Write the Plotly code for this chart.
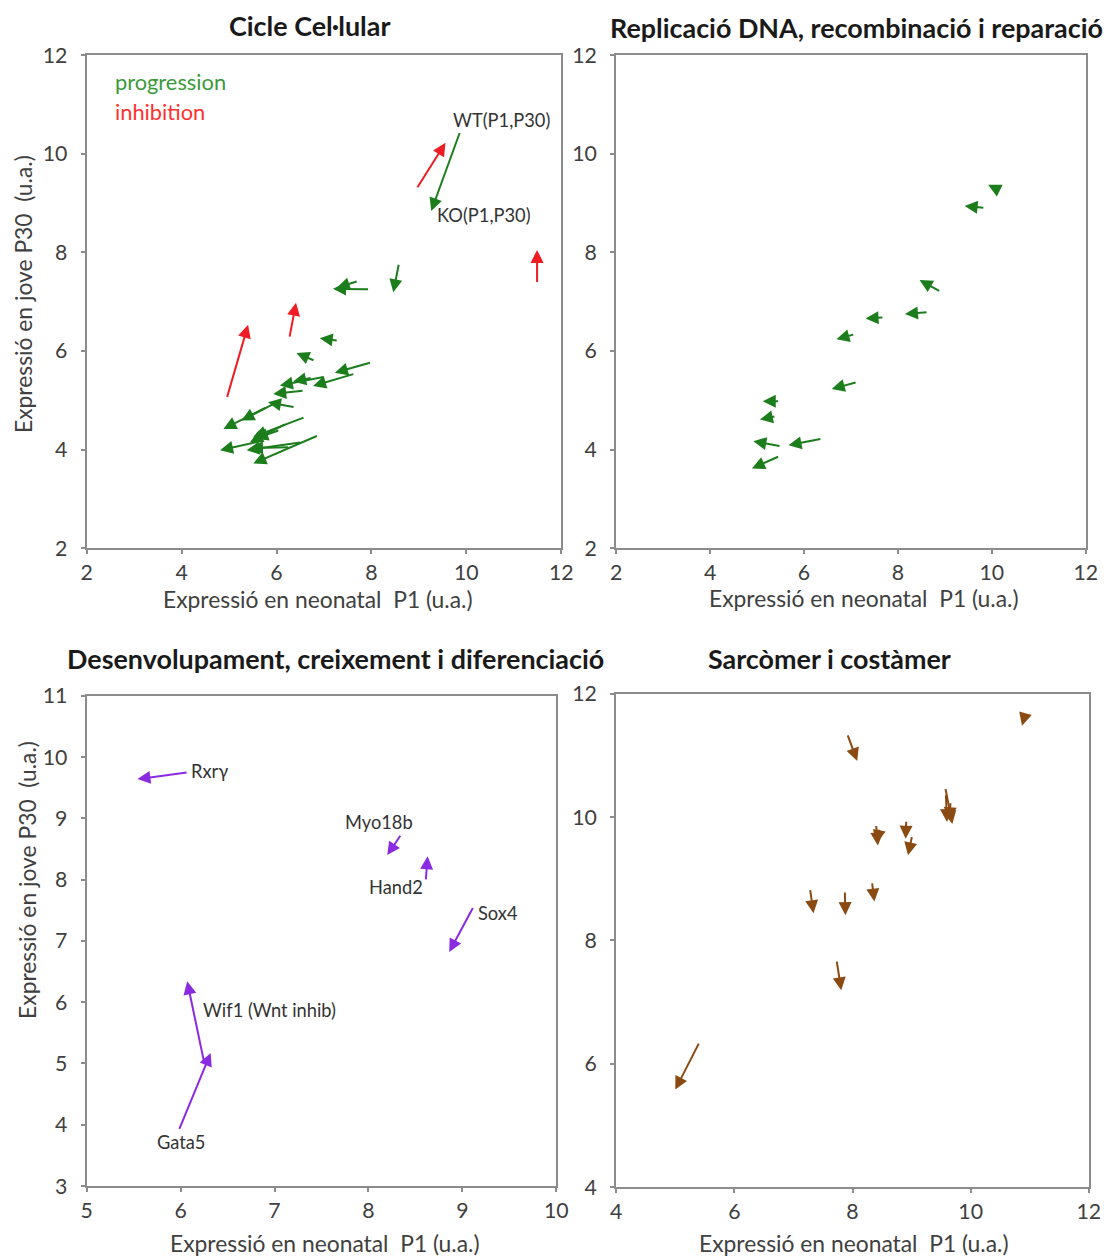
import plotly.graph_objects as go

# ---------------- data: arrows go from P1/P30 of WT (tail) to KO (head) ----------------
# Cicle Cel·lular: progression genes (green)
cc_prog_x0 = [8.58, 7.96, 7.72, 7.30, 6.81, 8.00, 7.65, 7.02, 6.75, 6.58, 6.39, 6.00, 5.79, 6.60, 6.21, 5.75, 6.88, 6.53, 6.28, 6.07]
cc_prog_y0 = [7.78, 7.25, 7.42, 6.21, 5.80, 5.77, 5.54, 5.48, 5.46, 5.20, 4.86, 4.96, 4.86, 4.66, 4.53, 4.19, 4.29, 4.15, 4.05, 4.40]
cc_prog_x1 = [8.46, 7.19, 7.27, 6.91, 6.42, 7.23, 6.77, 6.07, 6.35, 5.93, 5.82, 5.26, 4.88, 5.51, 5.44, 4.81, 5.51, 5.37, 5.44, 5.55]
cc_prog_y1 = [7.19, 7.26, 7.28, 6.26, 5.96, 5.56, 5.29, 5.30, 5.38, 5.13, 4.96, 4.59, 4.42, 4.26, 4.15, 3.99, 3.72, 3.99, 4.03, 4.22]
# Cicle Cel·lular: inhibition genes (red)
cc_inh_x0 = [4.95, 6.27, 8.95, 11.49]
cc_inh_y0 = [5.04, 6.26, 9.29, 7.37]
cc_inh_x1 = [5.40, 6.41, 9.56, 11.49]
cc_inh_y1 = [6.53, 6.98, 10.22, 8.05]
# key arrow WT -> KO
key_x0, key_y0, key_x1, key_y1 = 9.87, 10.45, 9.26, 8.84

# Replicació DNA, recombinació i reparació
dna_x0 = [10.13, 9.85, 8.91, 8.64, 7.70, 7.08, 7.13, 5.48, 5.40, 5.51, 6.38, 5.48]
dna_y0 = [9.27, 8.90, 7.20, 6.79, 6.68, 6.34, 5.37, 4.98, 4.68, 4.07, 4.22, 3.87]
dna_x1 = [9.92, 9.42, 8.46, 8.15, 7.31, 6.69, 6.59, 5.12, 5.06, 4.92, 5.67, 4.89]
dna_y1 = [9.37, 8.94, 7.44, 6.75, 6.66, 6.24, 5.23, 4.98, 4.61, 4.17, 4.09, 3.62]

# Desenvolupament, creixement i diferenciació
dev_genes = ["Rxrγ", "Myo18b", "Hand2", "Sox4", "Wif1 (Wnt inhib)", "Gata5"]
dev_x0 = [6.08, 8.35, 8.61, 9.12, 6.25, 5.98]
dev_y0 = [9.75, 8.74, 7.98, 7.56, 5.02, 3.91]
dev_x1 = [5.54, 8.20, 8.63, 8.86, 6.07, 6.32]
dev_y1 = [9.64, 8.40, 8.38, 6.82, 6.34, 5.17]
dev_lab_x = [6.09, 8.11, 8.29, 9.15, 6.22, 6.00]
dev_lab_y = [9.77, 8.94, 7.88, 7.46, 5.88, 3.72]
dev_lab_anchor = ["left", "center", "center", "left", "left", "center"]

# Sarcòmer i costàmer
sar_x0 = [5.41, 7.91, 10.93, 9.57, 9.58, 9.66, 8.40, 8.46, 8.91, 9.01, 7.28, 7.87, 8.33, 7.73]
sar_y0 = [6.35, 11.35, 11.69, 10.48, 10.38, 10.25, 9.88, 9.82, 9.95, 9.70, 8.84, 8.80, 8.95, 7.68]
sar_x1 = [5.00, 8.08, 10.87, 9.69, 9.60, 9.64, 8.43, 8.41, 8.90, 8.94, 7.34, 7.88, 8.37, 7.81]
sar_y1 = [5.58, 10.91, 11.48, 9.89, 9.92, 9.95, 9.54, 9.58, 9.65, 9.38, 8.44, 8.41, 8.63, 7.19]

titles = ["Cicle Cel·lular", "Replicació DNA, recombinació i reparació",
          "Desenvolupament, creixement i diferenciació", "Sarcòmer i costàmer"]
x_title = "Expressió en neonatal  P1 (u.a.)"
y_title = "Expressió en jove P30  (u.a.)"

FONT = "Lato, 'Open Sans', sans-serif"
GREEN = "#1b7d1b"
RED = "#f01c24"
PURPLE = "#8a2be2"
BROWN = "#8b4a12"
TEXT = "#404040"

# figure size and the mapping from screen position to figure pixels
W, H = 1130, 1270
SX, OX = 0.985, 6.2
SY, OY = 0.983, 10.8
FS = 1 / SX  # font scale so text keeps its on-screen size

fig = go.Figure()


def px_x(p):
    return ((p - OX) / SX) / W


def px_y(p):
    return 1 - ((p - OY) / SY) / H


# panel frames in screen pixels: (left, right, top, bottom)
panels = [
    (87, 562, 52, 547),
    (617, 1087, 52, 547),
    (87, 557, 695, 1187),
    (617, 1090, 693, 1188),
]
x_ranges = [[2, 12], [2, 12], [5, 10], [4, 12]]
y_ranges = [[2, 12], [2, 12], [3, 11], [4, 12]]
x_dticks = [2, 2, 1, 2]
y_dticks = [2, 2, 1, 2]

axis_style = dict(
    showline=True, mirror=True, linecolor="#8c8c8c", linewidth=2,
    ticks="outside", ticklen=4, tickwidth=1.5, tickcolor="#8c8c8c",
    showgrid=False, zeroline=False,
    tickfont=dict(family=FONT, size=21 * FS, color=TEXT),
    fixedrange=True,
)

for i, (l, r, t, b) in enumerate(panels):
    n = "" if i == 0 else str(i + 1)
    fig.update_layout({
        f"xaxis{n}": dict(domain=[px_x(l), px_x(r)], range=x_ranges[i], dtick=x_dticks[i],
                          anchor=f"y{n}", tick0=0, **axis_style),
        f"yaxis{n}": dict(domain=[px_y(b), px_y(t)], range=y_ranges[i], dtick=y_dticks[i],
                          anchor=f"x{n}", tick0=0, ticklabelstandoff=9, **axis_style),
    })
    # invisible trace so each axis pair is drawn
    fig.add_trace(go.Scatter(x=[None], y=[None], xaxis=f"x{n}", yaxis=f"y{n}",
                             showlegend=False, hoverinfo="skip"))

annotations = []


def add_arrows(x0s, y0s, x1s, y1s, color, axis_n, width=2.0, size=1.3):
    xr, yr = f"x{axis_n}", f"y{axis_n}"
    for a, b, c, d in zip(x0s, y0s, x1s, y1s):
        annotations.append(dict(
            x=c, y=d, ax=a, ay=b, xref=xr, yref=yr, axref=xr, ayref=yr,
            text="", showarrow=True, arrowhead=2, arrowsize=size,
            arrowwidth=width, arrowcolor=color, standoff=0, startstandoff=0,
        ))


add_arrows(cc_prog_x0, cc_prog_y0, cc_prog_x1, cc_prog_y1, GREEN, "")
add_arrows(cc_inh_x0, cc_inh_y0, cc_inh_x1, cc_inh_y1, RED, "")
add_arrows([key_x0], [key_y0], [key_x1], [key_y1], GREEN, "")
add_arrows(dna_x0, dna_y0, dna_x1, dna_y1, GREEN, "2")
add_arrows(dev_x0, dev_y0, dev_x1, dev_y1, PURPLE, "3")
add_arrows(sar_x0, sar_y0, sar_x1, sar_y1, BROWN, "4")

# labels inside the panels
annotations += [
    dict(x=9.68, y=10.69, xref="x", yref="y", text="WT(P1,P30)", showarrow=False,
         xanchor="left", font=dict(family=FONT, size=18 * FS, color="#333333")),
    dict(x=9.33, y=8.75, xref="x", yref="y", text="KO(P1,P30)", showarrow=False,
         xanchor="left", font=dict(family=FONT, size=18 * FS, color="#333333")),
    dict(x=2.56, y=11.46, xref="x", yref="y", text="progression", showarrow=False,
         xanchor="left", font=dict(family=FONT, size=21.5 * FS, color="#3a9a3a")),
    dict(x=2.56, y=10.86, xref="x", yref="y", text="inhibition", showarrow=False,
         xanchor="left", font=dict(family=FONT, size=21.5 * FS, color="#ff3030")),
]
for g, lx, ly, anc in zip(dev_genes, dev_lab_x, dev_lab_y, dev_lab_anchor):
    annotations.append(dict(x=lx, y=ly, xref="x3", yref="y3", text=g, showarrow=False,
                            xanchor=anc, font=dict(family=FONT, size=18 * FS, color="#333333")))

# panel titles
title_pos = [(310, 22), (858, 24), (336, 658), (830, 658)]
for t, (cx, cy) in zip(titles, title_pos):
    annotations.append(dict(x=px_x(cx), y=px_y(cy), xref="paper", yref="paper", text=f"<b>{t}</b>",
                            showarrow=False, xanchor="center", yanchor="middle",
                            font=dict(family=FONT, size=26.5 * FS, color="#1a1a1a")))

# axis titles
xt_pos = [(318, 598), (865, 597), (326, 1244), (855, 1244)]
for cx, cy in xt_pos:
    annotations.append(dict(x=px_x(cx), y=px_y(cy), xref="paper", yref="paper", text=x_title,
                            showarrow=False, xanchor="center", yanchor="middle",
                            font=dict(family=FONT, size=22.5 * FS, color=TEXT)))
yt_pos = [(23, 292), (27, 880)]
for cx, cy in yt_pos:
    annotations.append(dict(x=px_x(cx), y=px_y(cy), xref="paper", yref="paper", text=y_title,
                            showarrow=False, xanchor="center", yanchor="middle", textangle=-90,
                            font=dict(family=FONT, size=22.5 * FS, color=TEXT)))

fig.update_layout(
    width=W, height=H,
    margin=dict(l=0, r=0, t=0, b=0),
    paper_bgcolor="white", plot_bgcolor="white",
    showlegend=False,
    annotations=annotations,
)

fig.write_html("out.html", config={"displayModeBar": False})
